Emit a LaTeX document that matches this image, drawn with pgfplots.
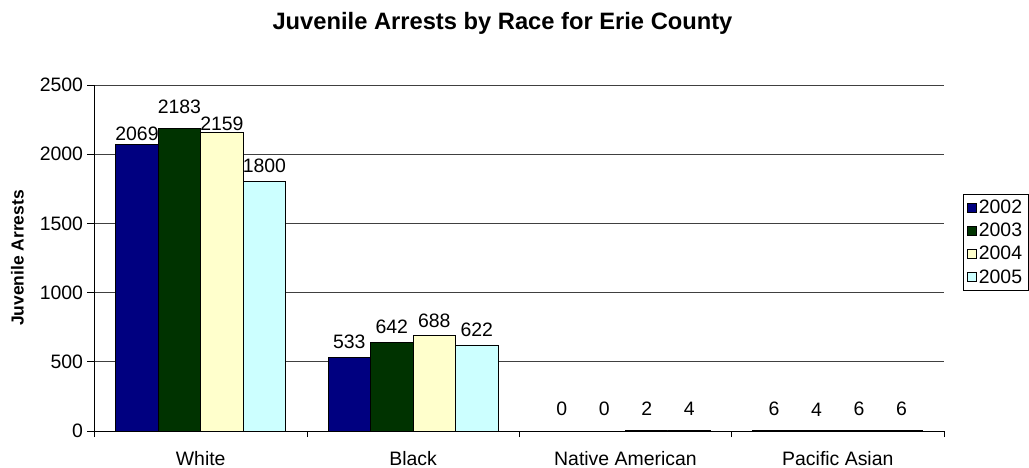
\documentclass[border=0pt]{standalone}
\usepackage{fontspec}
\setmainfont{Liberation Sans}
\usepackage{pgfplots}
\pgfplotsset{compat=1.18}
\definecolor{c2002}{RGB}{0,0,128}
\definecolor{c2003}{RGB}{0,51,0}
\definecolor{c2004}{RGB}{255,255,204}
\definecolor{c2005}{RGB}{204,255,255}
\newcommand{\lbl}{\fontsize{19.5}{23}\selectfont}
\begin{document}
\begin{tikzpicture}
\path[use as bounding box] (0,0) rectangle (1029bp,468bp);
\node[anchor=base, font=\fontsize{23.8}{28}\selectfont\bfseries] at (502.5bp,438bp) {Juvenile Arrests by Race for Erie County};
\node[rotate=90, font=\fontsize{17.5}{21}\selectfont\bfseries] at (17.5bp,210bp) {Juvenile Arrests};
\begin{axis}[
  at={(94.5bp,37bp)}, anchor=south west,
  scale only axis, width=849.5bp, height=346bp,
  xmin=-0.5, xmax=3.5, ymin=0, ymax=2500,
  ybar=0pt, bar width=0.2,
  axis x line*=bottom, axis y line*=left,
  axis line style={black, line width=0.7bp},
  xtick={0,1,2,3},
  xticklabels={White,Black,Native American,Pacific Asian},
  minor xtick={-0.5,0.5,1.5,2.5,3.5},
  major x tick style={draw=none},
  minor x tick style={black, line width=0.7bp},
  minor tick length=6bp,
  ytick={0,500,1000,1500,2000,2500},
  major tick length=7bp,
  xtick align=outside, ytick align=outside,
  y tick style={black, line width=0.7bp},
  ymajorgrids,
  major grid style={black!75, line width=0.6bp},
  tick label style={font=\lbl},
  /pgf/number format/assume math mode=true,
  /pgf/number format/1000 sep={},
  xticklabel style={yshift=-10bp},
  yticklabel style={xshift=-1bp},
  visualization depends on={value \coordindex \as \myidx},
  nodes near coords,
  every node near coord/.append style={font=\lbl, inner sep=2bp},
  legend cell align=left,
  legend style={at={(axis description cs:1.0224,0.685)}, anchor=north west,
    draw=black, line width=0.7bp, font=\lbl, row sep=4bp, inner xsep=4bp, inner ysep=4bp},
  legend image code/.code={\draw[#1, line width=0.5bp] (0bp,-4.5bp) rectangle (9bp,4.5bp);},
]
\addplot[fill=c2002, draw=black, line width=0.8bp,
  every node near coord/.append style={yshift={{2,6,13,12}[\myidx]}}]
  coordinates {(0,2069) (1,533) (2,0) (3,6)};
\addlegendentry{2002}
\addplot[fill=c2003, draw=black, line width=0.8bp,
  every node near coord/.append style={yshift={{13,6,13,12}[\myidx]}}]
  coordinates {(0,2183) (1,642) (2,0) (3,4)};
\addlegendentry{2003}
\addplot[fill=c2004, draw=black, line width=0.8bp,
  every node near coord/.append style={yshift={{-1,6,13,12}[\myidx]}}]
  coordinates {(0,2159) (1,688) (2,2) (3,6)};
\addlegendentry{2004}
\addplot[fill=c2005, draw=black, line width=0.8bp,
  every node near coord/.append style={yshift={{7,6,13,12}[\myidx]}}]
  coordinates {(0,1800) (1,622) (2,4) (3,6)};
\addlegendentry{2005}
\end{axis}
\end{tikzpicture}
\end{document}
